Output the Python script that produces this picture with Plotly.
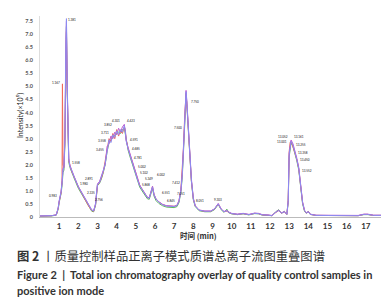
import plotly.graph_objects as go

# Retention time (min)
time_min = [
    0.0, 0.3, 0.6, 0.85, 0.95, 1.0, 1.05, 1.1, 1.15, 1.17,
    1.2, 1.25, 1.3, 1.35, 1.38, 1.42, 1.46, 1.5, 1.56, 1.65,
    1.8, 2.0, 2.2, 2.4, 2.55, 2.7, 2.8, 2.9, 2.95, 3.0,
    3.1, 3.2, 3.3, 3.4, 3.5, 3.6, 3.7, 3.8, 3.9, 4.0,
    4.1, 4.2, 4.3, 4.4, 4.45, 4.5, 4.6, 4.7, 4.8, 4.9,
    5.0, 5.1, 5.2, 5.3, 5.4, 5.5, 5.6, 5.7, 5.8, 5.87,
    5.95, 6.05, 6.2, 6.4, 6.6, 6.8, 7.0, 7.15, 7.25, 7.35,
    7.42, 7.48, 7.54, 7.58, 7.62, 7.66, 7.72, 7.8, 7.9, 8.0,
    8.1, 8.3, 8.6, 8.9, 9.1, 9.3, 9.45, 9.6, 9.75, 9.85,
    10.0, 10.3, 10.6, 10.9, 11.2, 11.4, 11.6, 11.9, 12.1, 12.3,
    12.45, 12.6, 12.75, 12.88, 12.95, 13.0, 13.05, 13.1, 13.2, 13.3,
    13.4, 13.5, 13.6, 13.7, 13.8, 13.9, 14.0, 14.1, 14.4, 15.0,
    15.6, 16.2, 16.6, 16.9, 17.1, 17.4, 17.9,
]

# Intensity (x10^9) of the overlaid QC samples
qc_green = [
    0.03, 0.03, 0.04, 0.07, 0.3, 0.55, 0.7, 0.9, 1.2, 1.5,
    1.7, 1.8, 2.8, 6.2, 7.3, 4.8, 2.9, 2.1, 1.9, 1.7,
    1.45, 1.1, 0.85, 0.58, 0.38, 0.22, 0.2, 0.45, 0.85, 1.2,
    1.28, 1.45, 1.7, 2.0, 2.5, 2.85, 2.95, 3.05, 3.15, 3.2,
    3.25, 3.2, 3.35, 3.4, 3.2, 2.85, 2.55, 2.3, 2.05, 1.8,
    1.55, 1.35, 1.15, 1.03, 0.92, 0.8, 0.7, 0.68, 0.9, 1.1,
    0.8, 0.63, 0.52, 0.43, 0.38, 0.36, 0.36, 0.4, 0.55, 0.95,
    1.5, 2.4, 3.5, 4.4, 4.7, 4.3, 3.5, 2.4, 1.35, 0.65,
    0.4, 0.24, 0.2, 0.2, 0.28, 0.48, 0.28, 0.18, 0.3, 0.16,
    0.12, 0.09, 0.12, 0.08, 0.13, 0.12, 0.07, 0.06, 0.05, 0.2,
    0.28, 0.14, 0.22, 0.1, 0.55, 2.3, 2.7, 2.85, 2.7, 2.45,
    2.15, 1.8, 1.15, 0.5, 0.22, 0.14, 0.22, 0.1, 0.06, 0.05,
    0.05, 0.05, 0.05, 0.09, 0.09, 0.06, 0.06,
]
qc_red = [
    0.04, 0.04, 0.05, 0.08, 0.33, 0.58, 0.72, 0.92, 1.4, 5.1,
    2.0, 1.9, 2.9, 6.3, 7.1, 4.9, 2.95, 2.15, 2.0, 1.75,
    1.5, 1.15, 0.88, 0.6, 0.4, 0.25, 0.22, 0.48, 0.88, 1.22,
    1.32, 1.48, 1.72, 2.1, 2.55, 3.0, 2.9, 3.2, 3.0, 3.35,
    3.1, 3.3, 3.2, 3.45, 3.35, 2.95, 2.62, 2.38, 2.12, 1.88,
    1.62, 1.42, 1.22, 1.1, 0.97, 0.86, 0.75, 0.73, 0.96, 1.16,
    0.86, 0.69, 0.58, 0.48, 0.43, 0.41, 0.41, 0.45, 0.62, 1.05,
    1.7, 2.6, 3.7, 4.55, 4.75, 4.35, 3.55, 2.45, 1.38, 0.7,
    0.42, 0.26, 0.22, 0.22, 0.3, 0.5, 0.3, 0.2, 0.22, 0.18,
    0.13, 0.1, 0.13, 0.09, 0.14, 0.13, 0.08, 0.07, 0.05, 0.17,
    0.24, 0.15, 0.19, 0.1, 0.65, 2.5, 2.85, 2.9, 2.7, 2.45,
    2.2, 1.85, 1.2, 0.55, 0.25, 0.15, 0.2, 0.1, 0.06, 0.05,
    0.05, 0.05, 0.05, 0.1, 0.1, 0.06, 0.06,
]
qc_magenta = [
    0.04, 0.04, 0.05, 0.08, 0.36, 0.62, 0.78, 0.98, 1.35, 1.7,
    1.85, 1.95, 3.1, 6.8, 7.5, 5.1, 3.05, 2.25, 1.98, 1.78,
    1.52, 1.17, 0.92, 0.64, 0.44, 0.27, 0.24, 0.52, 0.92, 1.28,
    1.35, 1.55, 1.8, 2.0, 2.7, 2.8, 3.1, 3.0, 3.25, 3.15,
    3.4, 3.25, 3.45, 3.55, 3.25, 2.92, 2.65, 2.4, 2.15, 1.9,
    1.65, 1.43, 1.23, 1.1, 0.98, 0.87, 0.76, 0.74, 0.97, 1.18,
    0.87, 0.7, 0.58, 0.48, 0.43, 0.41, 0.41, 0.45, 0.62, 1.02,
    1.65, 2.55, 3.65, 4.55, 4.85, 4.45, 3.65, 2.55, 1.45, 0.72,
    0.43, 0.27, 0.23, 0.23, 0.31, 0.52, 0.31, 0.21, 0.25, 0.19,
    0.14, 0.11, 0.14, 0.1, 0.15, 0.14, 0.09, 0.08, 0.06, 0.19,
    0.26, 0.16, 0.21, 0.11, 0.62, 2.45, 2.85, 2.95, 2.8, 2.55,
    2.25, 1.9, 1.25, 0.58, 0.26, 0.16, 0.21, 0.11, 0.07, 0.06,
    0.06, 0.06, 0.06, 0.11, 0.11, 0.07, 0.07,
]
qc_lavender = [
    0.04, 0.04, 0.05, 0.08, 0.35, 0.6, 0.75, 0.95, 1.3, 1.6,
    1.8, 1.9, 3.0, 6.5, 7.6, 5.0, 3.0, 2.2, 1.95, 1.75,
    1.5, 1.15, 0.9, 0.62, 0.42, 0.26, 0.23, 0.5, 0.9, 1.25,
    1.3, 1.5, 1.75, 2.05, 2.6, 2.95, 2.85, 3.15, 3.05, 3.3,
    3.15, 3.35, 3.25, 3.5, 3.3, 2.9, 2.6, 2.35, 2.1, 1.85,
    1.6, 1.4, 1.2, 1.08, 0.96, 0.85, 0.74, 0.72, 0.95, 1.15,
    0.85, 0.68, 0.57, 0.47, 0.42, 0.4, 0.4, 0.44, 0.6, 1.0,
    1.6, 2.5, 3.6, 4.5, 4.8, 4.4, 3.6, 2.5, 1.4, 0.7,
    0.42, 0.26, 0.22, 0.22, 0.3, 0.5, 0.3, 0.2, 0.24, 0.18,
    0.13, 0.1, 0.13, 0.09, 0.14, 0.13, 0.08, 0.07, 0.05, 0.18,
    0.25, 0.15, 0.2, 0.1, 0.6, 2.4, 2.8, 2.9, 2.75, 2.5,
    2.2, 1.85, 1.2, 0.55, 0.25, 0.15, 0.2, 0.1, 0.06, 0.05,
    0.05, 0.05, 0.05, 0.1, 0.1, 0.06, 0.06,
]

series_names = ["QC1", "QC2", "QC3", "QC4"]
series_values = [qc_green, qc_red, qc_magenta, qc_lavender]
series_colors = ["#5cb85c", "#f06a5a", "#c05ad0", "#8c8cf2"]

# Peak retention-time labels: text, label height, side of the label
peak_labels = ["0.983", "1.167", "1.381", "1.558", "1.980", "2.335", "2.756",
               "2.891", "3.455", "3.558", "3.711", "3.852", "4.301", "4.423",
               "4.591", "4.685", "4.781", "5.002", "5.102", "5.349", "5.868",
               "6.002", "6.551", "6.845", "7.051", "7.412", "7.500", "7.750",
               "8.051", "9.303",
               "13.001", "13.052", "13.161", "13.255", "13.358", "13.450", "13.552"]
peak_heights = [0.7, 5.0, 7.45, 1.95, 1.15, 0.8, 0.55,
                1.35, 2.45, 2.8, 3.1, 3.4, 3.55, 3.55,
                2.85, 2.5, 2.15, 1.8, 1.58, 1.36, 1.12,
                1.5, 0.8, 0.5, 0.75, 1.2, 3.3, 4.3,
                0.5, 0.55,
                2.75, 2.95, 2.95, 2.65, 2.35, 2.05, 1.65]
peak_sides = ["right", "right", "left", "left", "left", "left", "left",
              "right", "right", "right", "right", "right", "right", "left",
              "left", "left", "left", "left", "left", "left", "right",
              "left", "center", "center", "left", "right", "right", "left",
              "left", "center",
              "right", "right", "left", "left", "left", "left", "left"]

x_ticks = list(range(1, 18))
y_ticks = [0, 0.5, 1.0, 1.5, 2.0, 2.5, 3.0, 3.5, 4.0, 4.5, 5.0, 5.5, 6.0, 6.5, 7.0, 7.5]
y_tick_text = ["<b>0</b>"] + ["<b>%.1f</b>" % v for v in y_ticks[1:]]

fig = go.Figure()
for name, vals, col in zip(series_names, series_values, series_colors):
    fig.add_trace(go.Scatter(x=time_min, y=vals, mode="lines", name=name,
                             line=dict(color=col, width=1), showlegend=False))

for lab, h, side in zip(peak_labels, peak_heights, peak_sides):
    shift = {"left": 1, "right": -1, "center": 0}[side]
    fig.add_annotation(x=float(lab), y=h, text=lab, showarrow=False,
                       xanchor=side, yanchor="bottom", xshift=shift,
                       borderpad=0,
                       font=dict(size=3, color="#111", family="Lato"))

fig.update_layout(
    width=389, height=300,
    margin=dict(l=32, r=12, t=8, b=91, autoexpand=False),
    paper_bgcolor="white", plot_bgcolor="white",
    font=dict(family="Lato", color="#333"),
)
fig.update_xaxes(range=[0, 18], tickvals=x_ticks,
                 ticktext=["<b>%d</b>" % v for v in x_ticks],
                 showgrid=False, zeroline=False, showline=True, linecolor="#bbbbbb",
                 linewidth=1, ticks="", automargin=False,
                 tickfont=dict(size=8, family="Lato", color="#333"),
                 ticklabelstandoff=1)
fig.update_yaxes(range=[0, 7.7], tickvals=y_ticks, ticktext=y_tick_text,
                 showgrid=False, zeroline=False, showline=True, linecolor="#dddddd",
                 linewidth=1, ticks="", automargin=False,
                 tickfont=dict(size=5.5, family="Lato", color="#555"),
                 ticklabelstandoff=5)

# Axis titles
fig.add_annotation(xref="paper", yref="paper", x=-0.058, y=0.507,
                   text="Intensity(×10<sup>9</sup>)", textangle=-90, showarrow=False,
                   xanchor="center", yanchor="middle",
                   font=dict(size=7, family="Lato", color="#222"))
fig.add_annotation(xref="paper", yref="paper", x=0.46, y=-0.06,
                   text="<b>时间 (min)</b>", showarrow=False,
                   xanchor="center", yanchor="top", borderpad=0,
                   font=dict(size=7.5, family="Noto Sans CJK SC", color="#333"))

# Caption
fig.add_annotation(xref="paper", yref="paper", x=-0.0724, y=-0.196,
                   text="<b>图 2</b> 丨质量控制样品正离子模式质谱总离子流图重叠图谱",
                   showarrow=False, xanchor="left", yanchor="middle",
                   font=dict(size=12.3, family="Noto Sans CJK SC", color="#333"))
fig.add_annotation(xref="paper", yref="paper", x=-0.0724, y=-0.284,
                   text="<b>Figure 2  |  Total ion chromatography overlay of quality control samples in</b>",
                   showarrow=False, xanchor="left", yanchor="middle",
                   font=dict(size=11, family="Lato", color="#333"))
fig.add_annotation(xref="paper", yref="paper", x=-0.0724, y=-0.364,
                   text="<b>positive ion mode</b>",
                   showarrow=False, xanchor="left", yanchor="middle",
                   font=dict(size=11, family="Lato", color="#333"))

fig.write_html("out.html")
